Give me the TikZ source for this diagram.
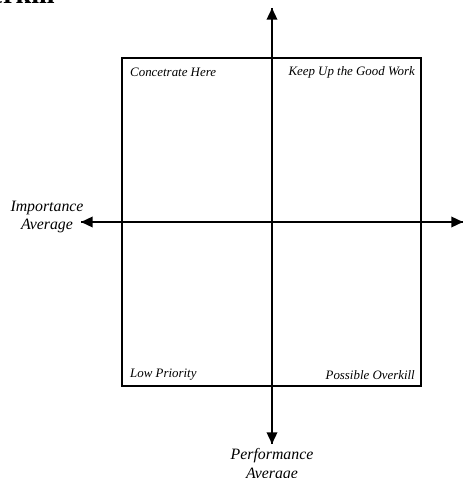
\documentclass[tikz,border=0pt]{standalone}
\usepackage{fontspec}
\setmainfont{Liberation Serif}
\usepackage{tikz}
\usetikzlibrary{positioning,arrows.meta}
\tikzset{
  quadlabel/.style={font=\fontsize{11}{13}\selectfont\itshape, inner sep=0pt},
  axislabel/.style={font=\fontsize{13.5}{16}\selectfont\itshape, align=center, inner sep=0pt},
  axisarrow/.style={-{Triangle[length=10pt,width=9pt]}, line width=1.6pt},
  gridbox/.style={draw, line width=1.6pt}
}

\begin{document}
\begin{tikzpicture}[x=0.03cm, y=-0.03cm]
  \useasboundingbox (0,0) rectangle (462,478);

  % cut-off heading from the page above
  \node[font=\fontsize{24}{28}\selectfont\bfseries, anchor=base east, inner sep=0pt] (head) at (55,4) {Overkill};

  % quadrant frame
  \draw[gridbox] (122,58) rectangle (421,386);

  % axis end points
  \coordinate (top) at (272,8);
  \coordinate (bottom) at (272,444);
  \coordinate (left) at (81,222);
  \coordinate (right) at (463,222);

  \draw[axisarrow] (bottom) -- (top);
  \draw[axisarrow] (top) -- (bottom);
  \draw[axisarrow] (right) -- (left);
  \draw[axisarrow] (left) -- (right);

  % quadrant names
  \node[quadlabel, anchor=west] (conc) at (130,72) {Concetrate Here};
  \node[quadlabel, anchor=east] (keep) at (415,72) {Keep Up the Good Work};
  \node[quadlabel, anchor=west] (low) at (130,375) {Low Priority};
  \node[quadlabel, anchor=east] (over) at (415,375) {Possible Overkill};

  % axis names
  \node[axislabel] (imp) at (47,217) {Importance\\Average};
  \node[axislabel] (perf) at (272,465) {Performance\\Average};
\end{tikzpicture}
\end{document}
